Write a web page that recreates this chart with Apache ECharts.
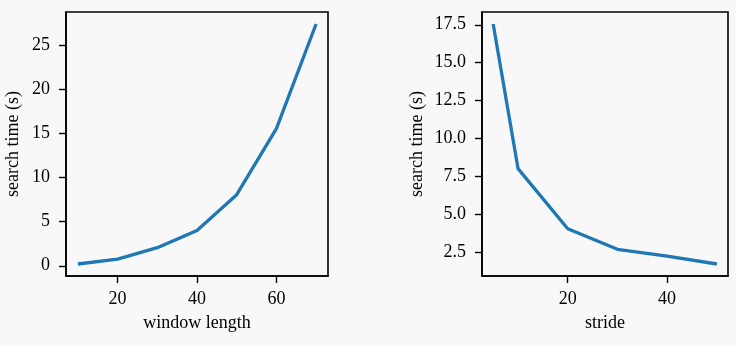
<!DOCTYPE html>
<html>
<head>
<meta charset="utf-8">
<script src="https://cdn.jsdelivr.net/npm/echarts@6/dist/echarts.min.js"></script>
<style>
html,body{margin:0;padding:0;background:#f8f8f8;}
#c{width:736px;height:346px;}
</style>
</head>
<body>
<div id="c"></div>
<script>
// ---- data ----
const windowLength = [10, 20, 30, 40, 50, 60, 70];
const windowTime = [0.2, 0.75, 2.05, 4.0, 8.07, 15.57, 27.45];
const stride = [5, 10, 20, 30, 40, 50];
const strideTime = [17.55, 8.02, 4.05, 2.7, 2.25, 1.73];
const xTicksLeft = [20, 40, 60];
const yTicksLeft = [0, 5, 10, 15, 20, 25];
const xTicksRight = [20, 40];
const yTicksRight = [2.5, 5.0, 7.5, 10.0, 12.5, 15.0, 17.5];

function pad(arr) {
  const mn = Math.min(...arr), mx = Math.max(...arr), m = (mx - mn) * 0.05;
  return [mn - m, mx + m];
}
const FONT = '"Liberation Serif","DejaVu Serif",serif';
const FS = 18;
const lblStyle = { color: '#000', fontFamily: FONT, fontSize: FS };

function xAxis(gi, data, ticks, name) {
  const r = pad(data);
  return {
    type: 'value', gridIndex: gi, min: r[0], max: r[1],
    axisLine: { show: true, onZero: false, lineStyle: { color: '#000', width: 1.6 } },
    splitLine: { show: false },
    axisTick: { show: true, inside: false, length: 7, customValues: ticks, lineStyle: { color: '#000', width: 1.4 } },
    axisLabel: Object.assign({ customValues: ticks, margin: 14 }, lblStyle),
    name: name, nameLocation: 'middle', nameGap: 38,
    nameTextStyle: lblStyle
  };
}
function yAxis(gi, data, ticks, fmt, gap) {
  const r = pad(data);
  return {
    type: 'value', gridIndex: gi, min: r[0], max: r[1],
    axisLine: { show: true, onZero: false, lineStyle: { color: '#000', width: 1.6 } },
    splitLine: { show: false },
    axisTick: { show: true, inside: false, length: 7, customValues: ticks, lineStyle: { color: '#000', width: 1.4 } },
    axisLabel: Object.assign({ customValues: ticks, margin: 16, formatter: fmt }, lblStyle),
    name: 'search time (s)', nameLocation: 'middle', nameGap: gap,
    nameTextStyle: lblStyle
  };
}

const chart = echarts.init(document.getElementById('c'), null, { renderer: 'canvas' });
chart.setOption({
  backgroundColor: '#f8f8f8',
  animation: false,
  grid: [
    { left: 66, top: 12, width: 262, height: 264, show: true, borderColor: '#000', borderWidth: 1.6, backgroundColor: 'transparent' },
    { left: 482, top: 12, width: 246, height: 264, show: true, borderColor: '#000', borderWidth: 1.6, backgroundColor: 'transparent' }
  ],
  xAxis: [
    xAxis(0, windowLength, xTicksLeft, 'window length'),
    xAxis(1, stride, xTicksRight, 'stride')
  ],
  yAxis: [
    yAxis(0, windowTime, yTicksLeft, v => String(Math.round(v)), 44),
    yAxis(1, strideTime, yTicksRight, v => v.toFixed(1), 56)
  ],
  series: [
    { type: 'line', xAxisIndex: 0, yAxisIndex: 0, data: windowLength.map((x, i) => [x, windowTime[i]]),
      symbol: 'none', lineStyle: { color: '#1f77b4', width: 3.3 } },
    { type: 'line', xAxisIndex: 1, yAxisIndex: 1, data: stride.map((x, i) => [x, strideTime[i]]),
      symbol: 'none', lineStyle: { color: '#1f77b4', width: 3.3 } }
  ]
});
</script>
</body>
</html>
